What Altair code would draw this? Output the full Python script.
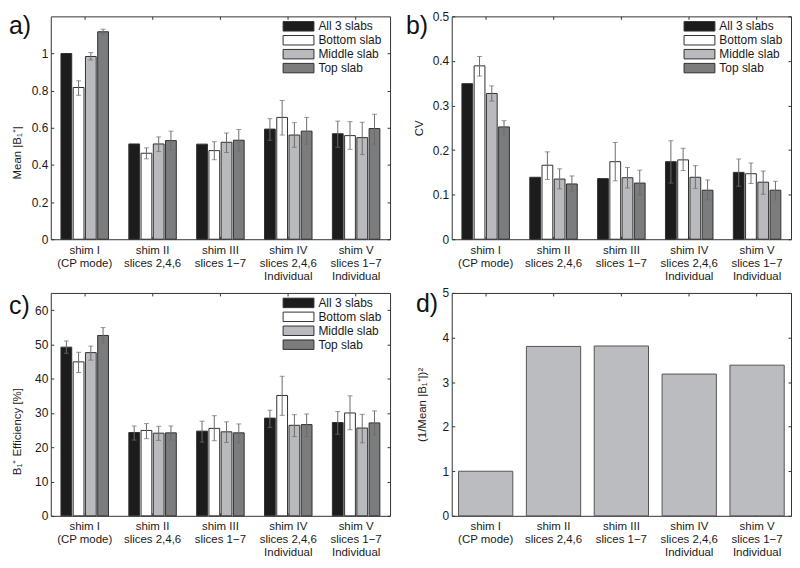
import altair as alt
import pandas as pd

FONT = "Liberation Sans"

categories = ["shim I|(CP mode)", "shim II|slices 2,4,6", "shim III|slices 1−7",
              "shim IV|slices 2,4,6|Individual", "shim V|slices 1−7|Individual"]
series = ["All 3 slabs", "Bottom slab", "Middle slab", "Top slab"]
series_fill = ["#1c1c1c", "#ffffff", "#b9babd", "#7b7c7e"]

# ---- panel a: Mean |B1+| ----
a_mean = [
    [1.0, 0.513, 0.512, 0.593, 0.568],
    [0.817, 0.463, 0.477, 0.656, 0.558],
    [0.984, 0.513, 0.522, 0.561, 0.547],
    [1.117, 0.531, 0.533, 0.582, 0.596],
]
a_lo = [
    [None, None, None, 0.533, 0.495],
    [0.775, 0.433, 0.428, 0.561, 0.484],
    [0.965, 0.472, 0.467, 0.495, 0.456],
    [1.103, 0.481, 0.475, 0.512, 0.512],
]
a_hi = [
    [None, None, None, 0.649, 0.636],
    [0.853, 0.492, 0.525, 0.747, 0.633],
    [1.005, 0.551, 0.572, 0.628, 0.630],
    [1.131, 0.582, 0.591, 0.656, 0.673],
]

# ---- panel b: CV ----
b_mean = [
    [0.349, 0.139, 0.136, 0.174, 0.150],
    [0.389, 0.166, 0.174, 0.178, 0.147],
    [0.327, 0.135, 0.138, 0.139, 0.128],
    [0.252, 0.124, 0.126, 0.110, 0.110],
]
b_lo = [
    [None, None, None, 0.126, 0.119],
    [0.366, 0.134, 0.131, 0.154, 0.125],
    [0.310, 0.113, 0.115, 0.114, 0.101],
    [0.236, 0.108, 0.099, 0.088, 0.088],
]
b_hi = [
    [None, None, None, 0.221, 0.180],
    [0.410, 0.196, 0.217, 0.204, 0.171],
    [0.344, 0.158, 0.161, 0.165, 0.153],
    [0.266, 0.142, 0.155, 0.133, 0.130],
]

# ---- panel c: B1+ efficiency [%] ----
c_mean = [
    [49.2, 24.3, 24.7, 28.5, 27.2],
    [44.9, 24.9, 25.5, 35.1, 30.0],
    [47.6, 24.1, 24.5, 26.4, 25.6],
    [52.6, 24.2, 24.2, 26.6, 27.1],
]
c_lo = [
    [47.4, 22.1, 21.5, 25.8, 23.8],
    [41.8, 22.5, 21.9, 29.3, 25.1],
    [45.4, 22.0, 21.4, 23.1, 21.3],
    [50.5, 22.1, 21.3, 23.1, 23.5],
]
c_hi = [
    [51.0, 26.2, 27.6, 30.8, 30.4],
    [47.7, 26.9, 29.2, 40.7, 35.0],
    [49.5, 26.1, 27.4, 29.5, 29.6],
    [54.9, 26.2, 26.8, 29.7, 30.6],
]

# ---- panel d: (1/Mean |B1+|)^2 ----
d_vals = [1.0, 3.80, 3.81, 3.18, 3.38]

W, H = 341, 224
ERR_COLOR = "#6c6c6c"
YFMT = "~r"


def tag_layer(tag, tx, ty):
    return alt.Chart(pd.DataFrame({"t": [tag]})).mark_text(
        align="left", baseline="top", fontSize=25, font=FONT, color="#111111"
    ).encode(x=alt.value(tx), y=alt.value(ty), text="t:N")


def mirror_layer(df, xs, ys, yvals, yfield):
    return alt.Chart(df).mark_point(opacity=0).encode(
        x=alt.X("cat:N", scale=xs, title=None,
                axis=alt.Axis(orient="top", labels=False, offset=-3, tickSize=3, domain=False)),
        y=alt.Y(f"{yfield}:Q", scale=ys, title=None,
                axis=alt.Axis(orient="right", labels=False, offset=-3, tickSize=3,
                              domain=False, values=yvals, grid=False)),
    )


def x_axis():
    return alt.Axis(orient="bottom", labelExpr="split(datum.label, '|')", offset=-3,
                    tickSize=3, labelPadding=5, domain=False, labelAngle=0)


def grouped(tag, means, los, his, ymax, yvals, ytitle, tpad, tx, ty, title_frac=None):
    rows, errs, caps = [], [], []
    for s, m, lo, hi in zip(series, means, los, his):
        for c, v, l, h in zip(categories, m, lo, hi):
            rows.append({"cat": c, "series": s, "value": v})
            if l is not None:
                errs.append({"cat": c, "series": s, "lo": l, "hi": h})
                caps.append({"cat": c, "series": s, "cap": l})
                caps.append({"cat": c, "series": s, "cap": h})
    df = pd.DataFrame(rows)
    de = pd.DataFrame(errs)
    dc = pd.DataFrame(caps)

    xs = alt.Scale(domain=categories, paddingInner=0.3, paddingOuter=0.15)
    ys = alt.Scale(domain=[0, ymax], nice=False, zero=True)
    xo = alt.XOffset("series:N", scale=alt.Scale(domain=series, paddingInner=0.12, paddingOuter=0))

    yaxis = dict(orient="left", values=yvals, format=YFMT, offset=-3, tickSize=3,
                 labelPadding=3, titlePadding=tpad, domain=False, grid=False)
    if title_frac is not None:
        yaxis["titleY"] = H * title_frac

    bars = alt.Chart(df).mark_bar(stroke="#303030", strokeWidth=1).encode(
        x=alt.X("cat:N", scale=xs, title=None, axis=x_axis()),
        xOffset=xo,
        y=alt.Y("value:Q", scale=ys, title=ytitle, axis=alt.Axis(**yaxis)),
        fill=alt.Fill("series:N", scale=alt.Scale(domain=series, range=series_fill),
                      legend=alt.Legend(title=None, orient="none", legendX=243, legendY=4,
                                        symbolType="M-3.1,-0.95H3.1V0.95H-3.1Z", symbolSize=100,
                                        symbolStrokeColor="#303030", symbolStrokeWidth=1,
                                        symbolOpacity=1, labelFontSize=12, labelOffset=14,
                                        rowPadding=0, padding=0, labelFont=FONT,
                                        labelColor="#1a1a1a")),
    )
    rules = alt.Chart(de).mark_rule(color=ERR_COLOR, strokeWidth=1).encode(
        x=alt.X("cat:N", scale=xs, axis=None),
        xOffset=xo,
        y=alt.Y("lo:Q", scale=ys, axis=None),
        y2="hi:Q",
    )
    capm = alt.Chart(dc).mark_tick(color=ERR_COLOR, thickness=1, size=5, orient="horizontal").encode(
        x=alt.X("cat:N", scale=xs, axis=None),
        xOffset=xo,
        y=alt.Y("cap:Q", scale=ys, axis=None),
    )
    return alt.layer(bars, rules, capm, mirror_layer(df, xs, ys, yvals, "value"),
                     tag_layer(tag, tx, ty)).resolve_axis(
        x="independent", y="independent").properties(width=W, height=H)


pa = grouped("a)", a_mean, a_lo, a_hi, 1.2, [0, 0.2, 0.4, 0.6, 0.8, 1.0],
             "Mean |B₁⁺|", 9, -42, -2, 0.61)
pb = grouped("b)", b_mean, b_lo, b_hi, 0.5, [0, 0.1, 0.2, 0.3, 0.4, 0.5],
             "CV", 8, -46, -2)
pc = grouped("c)", c_mean, c_lo, c_hi, 65, [0, 10, 20, 30, 40, 50, 60],
             "B₁⁺ Efficiency [%]", 12, -42, 1, 0.62)

# panel d
dd = pd.DataFrame({"cat": categories, "value": d_vals})
xs_d = alt.Scale(domain=categories, paddingInner=0.2, paddingOuter=0.1)
ys_d = alt.Scale(domain=[0, 5], nice=False)
d_bars = alt.Chart(dd).mark_bar(fill="#bbbcbf", stroke="#555555", strokeWidth=1).encode(
    x=alt.X("cat:N", scale=xs_d, title=None, axis=x_axis()),
    y=alt.Y("value:Q", scale=ys_d, title="(1/Mean |B₁⁺|)²",
            axis=alt.Axis(orient="left", values=[0, 1, 2, 3, 4, 5], format=YFMT, offset=-3,
                          tickSize=3, labelPadding=3, titlePadding=15, domain=False, grid=False)),
)
pd_ = alt.layer(d_bars, mirror_layer(dd, xs_d, ys_d, [0, 1, 2, 3, 4, 5], "value"),
                tag_layer("d)", -36, -1)).resolve_axis(
    x="independent", y="independent").properties(width=W, height=H)

chart = alt.concat(pa, pb, pc, pd_, columns=2, spacing={"row": 54, "column": 62},
                   bounds="flush").resolve_scale(fill="independent").resolve_legend(
    fill="independent").properties(padding=0, background="white").configure_axis(
    labelFont=FONT, titleFont=FONT, labelFontSize=12, titleFontSize=11.5,
    titleFontWeight="normal", labelColor="#1a1a1a", titleColor="#1a1a1a",
    tickColor="#333333", grid=False
).configure_axisX(labelFontSize=11.5, labelLineHeight=13).configure_view(
    stroke="#333333", strokeWidth=1)

chart.save("out.html", embed_options={"renderer": "svg", "actions": False})
